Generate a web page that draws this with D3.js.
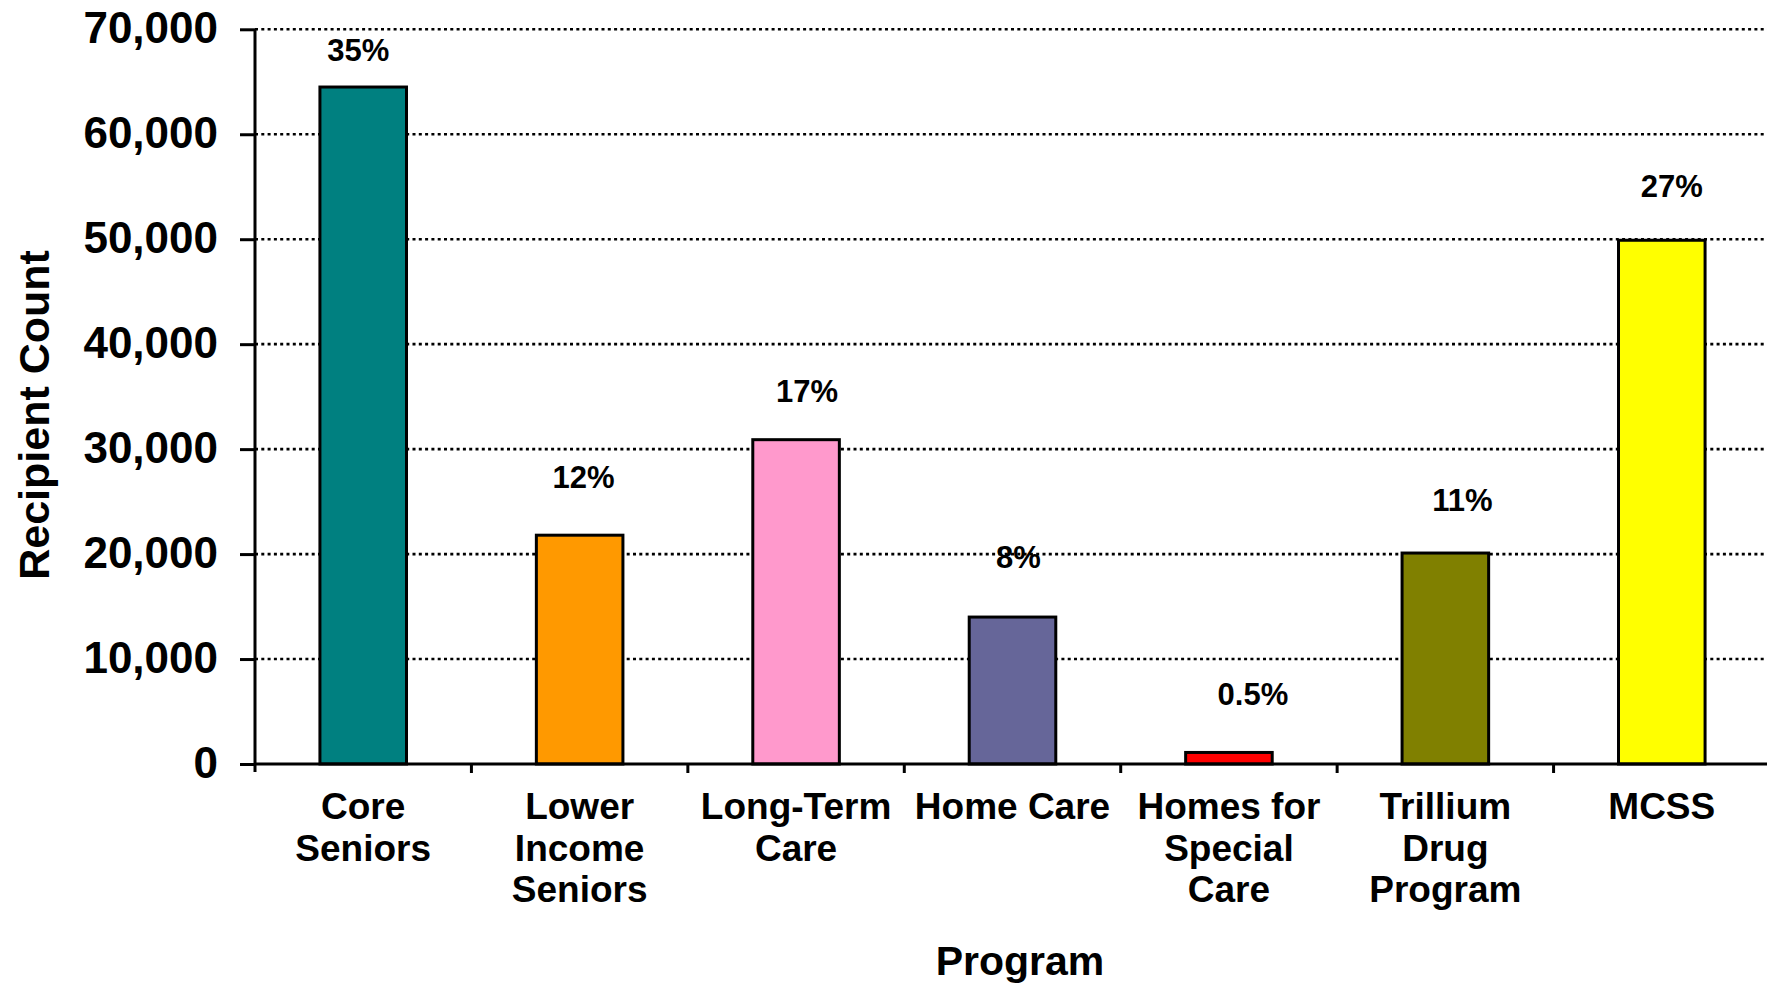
<!DOCTYPE html>
<html>
<head>
<meta charset="utf-8">
<script src="https://cdn.jsdelivr.net/npm/d3@7"></script>
<style>
  html, body { margin: 0; padding: 0; background: #ffffff; }
  svg { display: block; }
  text { font-family: "Liberation Sans", Arial, Helvetica, sans-serif; font-weight: bold; fill: #000; }
</style>
</head>
<body>
<svg id="chart" width="1767" height="985"></svg>
<script>
// Recipients by program
const categories = ["Core Seniors", "Lower Income Seniors", "Long-Term Care", "Home Care",
                    "Homes for Special Care", "Trillium Drug Program", "MCSS"];
const categoryLines = [["Core", "Seniors"], ["Lower", "Income", "Seniors"], ["Long-Term", "Care"],
                       ["Home Care"], ["Homes for", "Special", "Care"], ["Trillium", "Drug", "Program"], ["MCSS"]];
const recipients = [64500, 21800, 30900, 14000, 1100, 20100, 49900];
const shares = ["35%", "12%", "17%", "8%", "0.5%", "11%", "27%"];
const barColors = ["#008080", "#FF9900", "#FF99CC", "#666699", "#FF0000", "#808000", "#FFFF00"];
const yTicks = [0, 10000, 20000, 30000, 40000, 50000, 60000, 70000];

// Hand-placed nudges for the share labels (dx, gap above the bar top), in px
const shareNudge = [[-5, 26], [4, 47], [11, 38], [6, 49], [24, 47], [17, 42], [10, 43]];

const svg = d3.select("#chart");
const plotLeft = 255, plotRight = 1770, plotTop = 29.3, plotBottom = 764;

const x = d3.scaleBand().domain(categories).range([plotLeft, plotRight])
  .paddingInner(0.6).paddingOuter(0.3);
const y = d3.scaleLinear().domain([0, 70000]).range([plotBottom, plotTop]);

// dotted gridlines
svg.append("g").selectAll("line")
  .data(yTicks.filter(d => d > 0))
  .join("line")
  .attr("x1", plotLeft).attr("x2", plotRight)
  .attr("y1", d => y(d)).attr("y2", d => y(d))
  .attr("stroke", "#000").attr("stroke-width", 2.6)
  .attr("stroke-dasharray", "3 3.3");

// bars
svg.append("g").selectAll("rect")
  .data(categories)
  .join("rect")
  .attr("x", d => x(d))
  .attr("y", (d, i) => y(recipients[i]))
  .attr("width", x.bandwidth())
  .attr("height", (d, i) => y(0) - y(recipients[i]))
  .attr("fill", (d, i) => barColors[i])
  .attr("stroke", "#000").attr("stroke-width", 3);

// y axis
const yAxis = svg.append("g")
  .attr("transform", `translate(${plotLeft},0)`)
  .call(d3.axisLeft(y).tickValues(yTicks).tickFormat(d3.format(","))
    .tickSize(15).tickSizeOuter(0).tickPadding(22));
yAxis.select(".domain").remove();
yAxis.selectAll(".tick line").attr("stroke", "#000").attr("stroke-width", 3);
yAxis.selectAll(".tick text")
  .attr("font-size", 44).attr("dy", "0.3em")
  .style("font-family", "'Liberation Sans', Arial, sans-serif").style("font-weight", "bold");
svg.append("line")
  .attr("x1", plotLeft).attr("x2", plotLeft)
  .attr("y1", y(70000)).attr("y2", y(0) + 8)
  .attr("stroke", "#000").attr("stroke-width", 3);

// x axis line and category boundary ticks
svg.append("line")
  .attr("x1", plotLeft).attr("x2", plotRight)
  .attr("y1", y(0)).attr("y2", y(0))
  .attr("stroke", "#000").attr("stroke-width", 3);
const boundaries = categories.map(c => x(c) + x.bandwidth() + x.step() * x.paddingInner() / 2);
svg.append("g").selectAll("line")
  .data(boundaries)
  .join("line")
  .attr("x1", d => d).attr("x2", d => d)
  .attr("y1", y(0)).attr("y2", y(0) + 9)
  .attr("stroke", "#000").attr("stroke-width", 3);

// category labels
const xLabels = svg.append("g").selectAll("text")
  .data(categories)
  .join("text")
  .attr("text-anchor", "middle")
  .attr("font-size", 37)
  .attr("x", d => x(d) + x.bandwidth() / 2)
  .attr("y", 819);
xLabels.each(function (d, i) {
  const t = d3.select(this);
  categoryLines[i].forEach((line, j) => {
    t.append("tspan")
      .attr("x", x(d) + x.bandwidth() / 2)
      .attr("y", 819 + j * 41.7)
      .text(line);
  });
});

// share labels above the bars
svg.append("g").selectAll("text")
  .data(categories)
  .join("text")
  .attr("text-anchor", "middle")
  .attr("font-size", 31)
  .attr("x", (d, i) => x(d) + x.bandwidth() / 2 + shareNudge[i][0])
  .attr("y", (d, i) => y(recipients[i]) - shareNudge[i][1])
  .text((d, i) => shares[i]);

// axis titles
svg.append("text")
  .attr("text-anchor", "middle")
  .attr("font-size", 41)
  .attr("x", 1020).attr("y", 975)
  .text("Program");

svg.append("text")
  .attr("text-anchor", "middle")
  .attr("font-size", 43)
  .attr("transform", "translate(49,415) rotate(-90)")
  .text("Recipient Count");
</script>
</body>
</html>
